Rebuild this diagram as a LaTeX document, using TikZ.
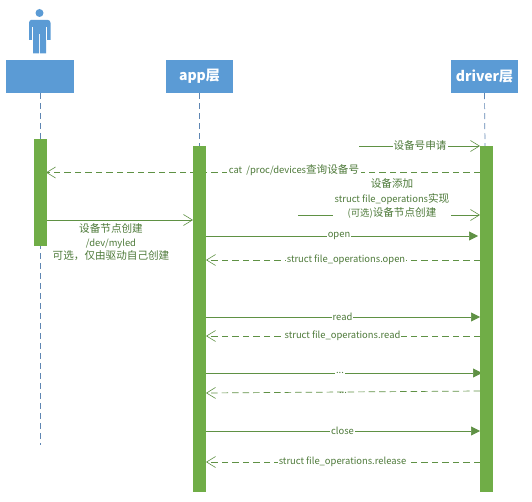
\documentclass[tikz,border=0pt]{standalone}
\usepackage{fontspec}
\setmainfont{Noto Sans CJK SC}
\usetikzlibrary{arrows.meta}
\definecolor{boxblue}{HTML}{5B9BD5}
\definecolor{lifeblue}{HTML}{5F86B3}
\definecolor{bargreen}{HTML}{70AD47}
\definecolor{msggreen}{HTML}{5F9144}
\definecolor{txtgreen}{HTML}{4E7A3A}
\newcommand{\zh}[1]{{\fontsize{10.6}{10}\selectfont #1}}
\tikzset{
  x=1pt,y=-1pt,
  actor/.style={fill=boxblue,draw=none,inner sep=0,minimum height=33pt,text=white,font=\fontsize{14}{16}\selectfont\bfseries},
  lifeline/.style={draw=lifeblue,line width=.7pt,dash pattern=on 6pt off 4pt},
  bar/.style={fill=bargreen,draw=none,inner sep=0,anchor=north west},
  sync/.style={draw=msggreen,line width=.7pt,-{Triangle[length=9pt,width=9pt,fill=msggreen]}},
  async/.style={draw=msggreen,line width=.7pt,-{Straight Barb[length=9pt,width=11pt,line width=.6pt]}},
  reply/.style={async,dash pattern=on 6.5pt off 4pt},
  msg/.style={fill=white,inner sep=1pt,text=txtgreen,font=\fontsize{9.4}{10}\selectfont,align=center},
  note/.style={inner sep=0,text=txtgreen,font=\fontsize{9.4}{10}\selectfont,align=center}
}
\begin{document}
\begin{tikzpicture}
\useasboundingbox (0,0) rectangle (532,502);
% actors
\node[actor,minimum width=68pt] (user) at (40,76.5) {};
\node[actor,minimum width=67pt] (app) at (199.5,76.5) {app层};
\node[actor,minimum width=67pt] (driver) at (484.5,76.5) {driver层};
% person icon
\fill[boxblue] (39.5,13) circle (4);
\fill[boxblue] (31,20) .. controls (30,20.3) and (29,21) .. (29,23) -- (29,40) -- (33,40) -- (33,53.5) -- (39,53.5) -- (39,34) -- (40,34) -- (40,53.5) -- (46,53.5) -- (46,40) -- (50.5,40) -- (50.5,23) .. controls (50.5,21) and (49.5,20.3) .. (48,20) -- cycle;
\draw[white,line width=.5pt] (32.5,27) -- (32.5,40) (46.5,27) -- (46.5,40);
% lifelines
\coordinate (userEnd) at (40,445);
\draw[lifeline] (user.south) -- (userEnd);
\coordinate (appTop) at (199.5,146);
\coordinate (drvTop) at (485,146);
\draw[lifeline] (app.south) -- (appTop);
\draw[lifeline] (driver.south) -- (drvTop);
% messages
\coordinate (m1s) at (359,146); \coordinate (m1e) at (480,146);
\draw[async] (m1s) -- (m1e);
\node[msg] (m1l) at (420,145.5) {\zh{设备号申请}};
\coordinate (m2s) at (480,172.5); \coordinate (m2e) at (46,172.5);
\draw[reply] (m2s) -- (m2e);
\node[msg,inner sep=2pt] (m2l) at (294,170) {cat\ \ /proc/devices\zh{查询设备号}};
\coordinate (m3s) at (298,215); \coordinate (m3e) at (480,215);
\draw[async] (m3s) -- (m3e);
\node[msg,inner sep=2pt,font=\fontsize{9.4}{14.5}\selectfont] (m3l) at (392,198.5) {\zh{设备添加}\\struct file\_operations\zh{实现}\\(可选)\zh{设备节点创建}};
\coordinate (m4s) at (46,220); \coordinate (m4e) at (193,220);
\draw[async] (m4s) -- (m4e);
\node[note,font=\fontsize{9.4}{13.5}\selectfont] (m4l) at (111,242.5) {\zh{设备节点创建}\\/dev/myled\\\zh{可选，仅由驱动自己创建}};
\coordinate (m5s) at (206,236); \coordinate (m5e) at (478,236);
\draw[sync] (m5s) -- (m5e);
\node[msg] (m5l) at (339,236) {open};
\coordinate (m6s) at (480,260); \coordinate (m6e) at (206,260);
\draw[reply] (m6s) -- (m6e);
\node[msg] (m6l) at (346,260) {struct file\_operations.open};
\coordinate (m7s) at (206,317); \coordinate (m7e) at (480,317);
\draw[sync] (m7s) -- (m7e);
\node[msg] (m7l) at (342.5,317) {read};
\coordinate (m8s) at (480,336); \coordinate (m8e) at (206,336);
\draw[reply] (m8s) -- (m8e);
\node[msg] (m8l) at (342.5,336) {struct file\_operations.read};
\coordinate (m9s) at (206,373); \coordinate (m9e) at (482,373);
\draw[sync] (m9s) -- (m9e);
\node[msg] (m9l) at (340,372.5) {...};
\coordinate (m10s) at (480,391); \coordinate (m10e) at (206,393);
\draw[reply] (m10s) -- (m10e);
\node[note] (m10l) at (343,393) {...};
\coordinate (m11s) at (206,431); \coordinate (m11e) at (480,431);
\draw[sync] (m11s) -- (m11e);
\node[msg] (m11l) at (342.5,431) {close};
\coordinate (m12s) at (480,462); \coordinate (m12e) at (206,462);
\draw[reply] (m12s) -- (m12e);
\node[msg] (m12l) at (342.5,462) {struct file\_operations.release};
% bars on top
\node[bar,minimum width=12.5pt,minimum height=107pt] (bar1) at (34,139) {};
\node[bar,minimum width=13pt,minimum height=346pt] (bar2) at (193,146) {};
\node[bar,minimum width=13pt,minimum height=346pt] (bar3) at (480,146) {};
\end{tikzpicture}
\end{document}
